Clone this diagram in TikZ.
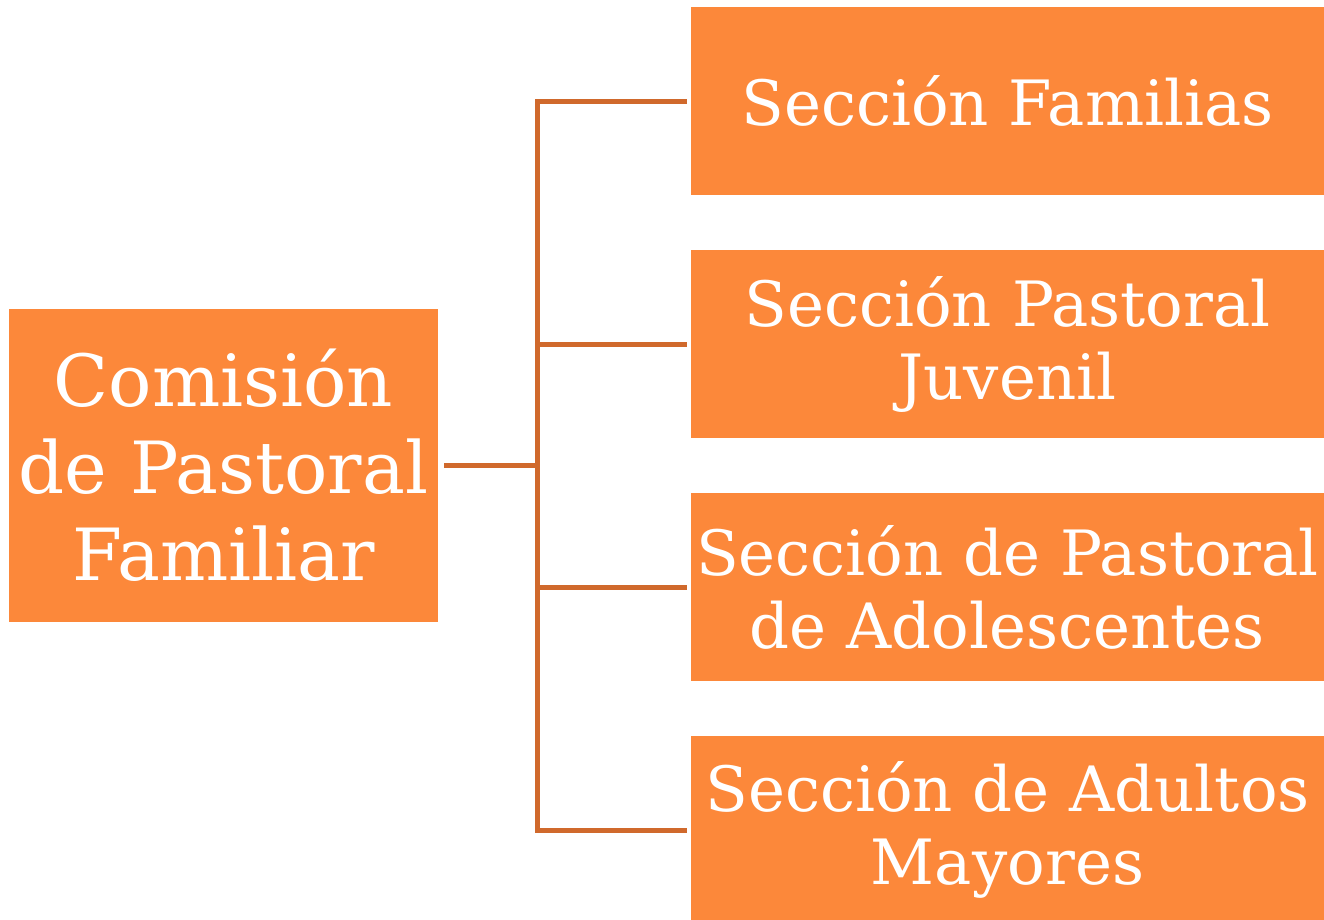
\documentclass[tikz,border=0pt]{standalone}
\usepackage{fontspec}
\setmainfont{DejaVu Serif}
\usetikzlibrary{calc}
\definecolor{boxfill}{RGB}{252,136,58}
\definecolor{linecol}{RGB}{208,105,44}
\begin{document}
\begin{tikzpicture}[x=1pt,y=-1pt,
  box/.style={fill=boxfill, draw=none, text=white, align=center, inner sep=0pt},
  rbox/.style={box, minimum width=633pt, minimum height=188pt, font=\fontsize{62.5}{73}\selectfont},
  lbox/.style={box, minimum width=429pt, minimum height=313pt, font=\fontsize{72}{87}\selectfont},
  conn/.style={draw=linecol, line width=5pt}]
\useasboundingbox (0,0) rectangle (1324,919);
\node[lbox] (L) at (223.5,465.5) {Comisión\\de Pastoral\\Familiar};
\node[rbox] (R1) at (1007.5,101) {Sección Familias};
\node[rbox] (R2) at (1007.5,344) {Sección Pastoral\\Juvenil};
\node[rbox] (R3) at (1007.5,587) {Sección de Pastoral\\de Adolescentes};
\node[rbox] (R4) at (1007.5,830) {Sección de Adultos\\Mayores};
\coordinate (T) at (537,465);
\draw[conn, shorten <=6pt] (L.east) -- (L.east -| T);
\draw[conn, shorten <=4pt, shorten >=4pt] (R1.west) -- (T |- R1.west) -- (T |- R4.west) -- (R4.west);
\foreach \r in {R2,R3}
  \draw[conn, shorten >=4pt] (T |- \r.west) -- (\r.west);
\end{tikzpicture}
\end{document}
